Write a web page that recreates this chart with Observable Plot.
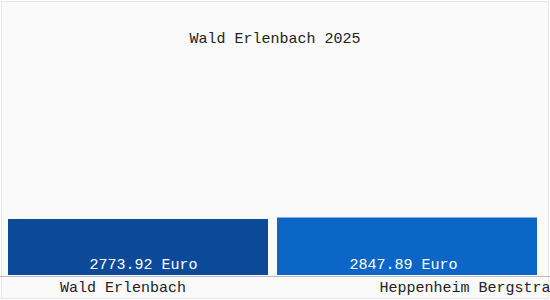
<!DOCTYPE html>
<html>
<head>
<meta charset="utf-8">
<script src="https://cdn.jsdelivr.net/npm/d3@7"></script>
<script src="https://cdn.jsdelivr.net/npm/@observablehq/plot@0.6"></script>
<style>
  html, body { margin: 0; padding: 0; background: #ffffff; }
  #wrap { position: relative; width: 550px; height: 300px; overflow: hidden; background: #ffffff; }
  #frame { position: absolute; left: 1px; top: 1px; width: 546px; height: 296px; border: 1px solid #e6e6e6; background: #fafafa; }
  #title { position: absolute; left: 0; top: 31px; width: 550px; text-align: center; font-family: "Liberation Mono", "DejaVu Sans Mono", monospace; font-size: 15px; color: #222; line-height: 18px; }
  #chart { position: absolute; left: 0; top: 60px; }
</style>
</head>
<body>
<div id="wrap">
  <div id="frame"></div>
  <div id="title"></div>
  <div id="chart"></div>
</div>
<script>
const title = "Wald Erlenbach 2025";
const cities = ["Wald Erlenbach", "Heppenheim Bergstraße"];
const values = [2773.92, 2847.89];
const barColors = ["#0a4a99", "#0b66c8"];
const unit = "Euro";

document.getElementById("title").textContent = title;

const data = cities.map((c, i) => ({city: c, value: values[i], color: barColors[i]}));

const font = "Liberation Mono, DejaVu Sans Mono, monospace";
const label = d => `${d.value.toFixed(2)} ${unit}`;

const chart = Plot.plot({
  width: 550,
  height: 240,
  marginTop: 0,
  marginBottom: 25,
  marginLeft: 0,
  marginRight: 0,
  style: {background: "transparent", fontFamily: font, fontSize: "15px", overflow: "visible"},
  x: {type: "band", domain: cities, range: [7.5, 538.5], paddingInner: 0.0333, paddingOuter: 0, axis: null},
  y: {domain: [0, 10650], axis: null},
  color: {type: "identity"},
  marks: [
    Plot.barY(data, {x: "city", y: "value", fill: "color"}),
    Plot.ruleY([0], {stroke: "#bbbbbb", dy: 1}),
    Plot.text(data.slice(0, 1), {x: "city", text: label, frameAnchor: "bottom", dy: -7, dx: 5, fill: "white", fontSize: 15, fontFamily: font}),
    Plot.text(data.slice(1, 2), {x: "city", text: label, frameAnchor: "bottom", dy: -7, dx: -4, fill: "white", fontSize: 15, fontFamily: font}),
    Plot.text(data.slice(0, 1), {x: "city", text: "city", frameAnchor: "bottom", dy: 16, dx: -15.5, fill: "#222", fontSize: 15, fontFamily: font}),
    Plot.text(data.slice(1, 2), {x: "city", text: "city", frameAnchor: "bottom", dy: 16, dx: -28, textAnchor: "start", fill: "#222", fontSize: 15, fontFamily: font})
  ]
});
document.getElementById("chart").appendChild(chart);
</script>
</body>
</html>
